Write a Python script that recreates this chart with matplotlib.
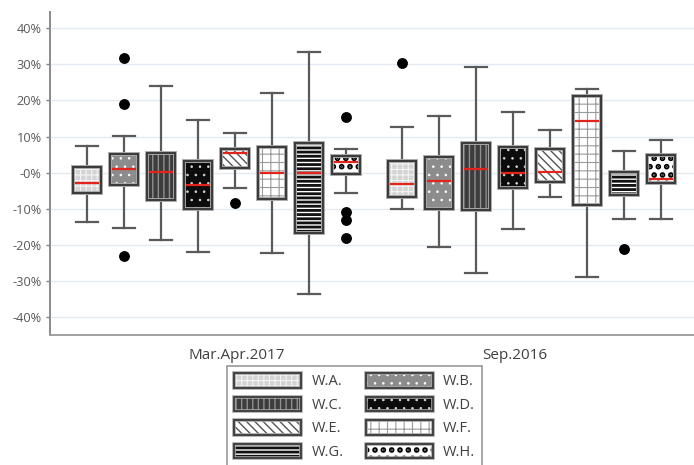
import matplotlib
matplotlib.use("Agg")
import matplotlib as mpl
import matplotlib.pyplot as plt
from matplotlib.patches import PathPatch, Patch, Rectangle
from matplotlib.legend_handler import HandlerBase
from matplotlib.ticker import FuncFormatter, MultipleLocator

# ---- data (percent change) ----
series = ["W.A.", "W.B.", "W.C.", "W.D.", "W.E.", "W.F.", "W.G.", "W.H."]
groups = ["Mar.Apr.2017", "Sep.2016"]

q1_mar = [-5.7, -3.3, -7.5, -10.0, 1.3, -7.2, -16.7, -0.4]
med_mar = [-3.0, 0.9, 0.2, -3.3, 5.3, 0.0, 0.0, 2.9]
q3_mar = [1.5, 5.2, 5.5, 3.1, 6.5, 7.0, 8.2, 4.6]
lo_mar = [-13.7, -15.3, -18.8, -22.0, -4.2, -22.3, -33.7, -5.7]
hi_mar = [7.4, 10.2, 23.9, 14.7, 11.1, 22.1, 33.3, 6.6]
out_mar = [[], [31.7, 18.9, -23.2], [], [], [-8.5], [], [], [15.4, -10.8, -13.2, -18.0]]

q1_sep = [-6.8, -10.2, -10.4, -4.3, -2.6, -8.9, -6.3, -3.0]
med_sep = [-3.2, -2.4, 0.9, -0.1, 0.1, 14.3, 0.1, -1.9]
q3_sep = [3.1, 4.3, 8.3, 7.0, 6.5, 21.3, 0.1, 4.8]
lo_sep = [-10.2, -20.5, -27.9, -15.5, -6.8, -28.8, -12.8, -12.8]
hi_sep = [12.5, 15.7, 29.3, 16.7, 11.8, 23.1, 6.1, 8.9]
out_sep = [[30.3], [], [], [], [], [], [-21.1], []]

# ---- fill styles per series ----
styles = {
    "W.A.": dict(face="#d4d4d4", hatch="+++", hc="#f4f4f4", hlw=0.8),
    "W.B.": dict(face="#8c8c8c", hatch="..", hc="#ffffff", hlw=0.6),
    "W.C.": dict(face="#3c3c3c", hatch="|||", hc="#8f8f8f", hlw=1.0),
    "W.D.": dict(face="#0c0c0c", hatch="..", hc="#d8d8d8", hlw=0.6),
    "W.E.": dict(face="#ffffff", hatch="\\\\\\\\", hc="#555555", hlw=1.0),
    "W.F.": dict(face="#ffffff", hatch="++", hc="#9a9a9a", hlw=0.8),
    "W.G.": dict(face="#ffffff", hatch="----", hc="#111111", hlw=2.0),
    "W.H.": dict(face="#ffffff", hatch="..", hc="#000000", hlw=2.8),
}

EDGE = "#3a3a3a"
HALO = "#a8a8a8"
WHISK = "#5a5a5a"
MED = "#e3241d"

plt.rcParams["font.family"] = ["Open Sans", "DejaVu Sans"]

fig = plt.figure(figsize=(6.94, 4.65), dpi=100)
ax = fig.add_axes([50 / 694, 1 - 335 / 465, 1 - 50 / 694, (335 - 12) / 465])


def with_hatch(cls, *args, st, **kw):
    with mpl.rc_context({"hatch.linewidth": st["hlw"]}):
        p = cls(*args, facecolor="none", edgecolor=st["hc"],
                hatch=st["hatch"], lw=0, **kw)
    if hasattr(p, "set_hatch_linewidth"):
        p.set_hatch_linewidth(st["hlw"])
    return p


group_gap = 0.5
group_data = [
    (q1_mar, med_mar, q3_mar, lo_mar, hi_mar, out_mar),
    (q1_sep, med_sep, q3_sep, lo_sep, hi_sep, out_sep),
]

for gi, (q1, med, q3, lo, hi, out) in enumerate(group_data):
    offset = gi * (len(series) + group_gap)
    positions = [offset + i for i in range(len(series))]
    stats = [dict(label=s, q1=a, med=m, q3=b, whislo=l, whishi=h, fliers=f)
             for s, a, m, b, l, h, f in zip(series, q1, med, q3, lo, hi, out)]
    res = ax.bxp(
        stats, positions=positions, widths=0.76, capwidths=0.6,
        patch_artist=True, manage_ticks=False,
        boxprops=dict(edgecolor="none", linewidth=0),
        whiskerprops=dict(color=WHISK, linewidth=1.6),
        capprops=dict(color=WHISK, linewidth=1.6),
        medianprops=dict(color=MED, linewidth=1.6),
        flierprops=dict(marker="o", markerfacecolor="black",
                        markeredgecolor="black", markersize=6.8),
    )
    for s, box, mline in zip(series, res["boxes"], res["medians"]):
        st = styles[s]
        box.set_facecolor(st["face"])
        box.set_zorder(2)
        path, tr = box.get_path(), box.get_transform()
        ax.add_patch(with_hatch(PathPatch, path, st=st, transform=tr, zorder=2.1))
        mline.set_zorder(2.2)
        ax.add_patch(PathPatch(path, transform=tr, fill=False,
                               edgecolor=HALO, lw=2.8, zorder=2.3))
        ax.add_patch(PathPatch(path, transform=tr, fill=False,
                               edgecolor=EDGE, lw=1.4, zorder=2.4))

# ---- axes styling ----
ax.set_xlim(-1.0, 16.4)
ax.set_ylim(-45, 44.5)
ax.yaxis.set_major_locator(MultipleLocator(10))
ax.yaxis.set_major_formatter(FuncFormatter(
    lambda v, p: "-0%" if abs(v) < 1e-9 else f"{v:.0f}%"))
ax.set_xticks([4.05, 11.57])
ax.set_xticklabels(groups)
ax.tick_params(axis="x", length=0, pad=9, labelsize=11, labelcolor="#404040")
ax.tick_params(axis="y", length=3, width=1, color="#808080", pad=3,
               labelsize=9.2, labelcolor="#595959")
ax.grid(axis="y", color="#e4eaf1", linewidth=1)
ax.set_axisbelow(True)
for side in ("top", "right"):
    ax.spines[side].set_visible(False)
ax.spines["left"].set_color("#8a8a8a")
ax.spines["left"].set_linewidth(1.4)
ax.spines["bottom"].set_color("#a0a0a0")
ax.spines["bottom"].set_linewidth(1.4)


# ---- legend ----
class StyledBoxHandler(HandlerBase):
    def __init__(self, st):
        super().__init__()
        self.st = st

    def create_artists(self, legend, orig_handle, xdescent, ydescent,
                       width, height, fontsize, trans):
        xy = (-xdescent, -ydescent)
        base = Rectangle(xy, width, height, facecolor=self.st["face"],
                         edgecolor="none", lw=0, transform=trans)
        hl = with_hatch(Rectangle, xy, width, height, st=self.st, transform=trans)
        halo = Rectangle(xy, width, height, fill=False, edgecolor=HALO,
                         lw=2.6, transform=trans)
        edge = Rectangle(xy, width, height, fill=False, edgecolor=EDGE,
                         lw=1.3, transform=trans)
        return [base, hl, halo, edge]


handles = [Patch(label=s) for s in series]
hmap = {h: StyledBoxHandler(styles[s]) for h, s in zip(handles, series)}
order = [0, 2, 4, 6, 1, 3, 5, 7]
leg = fig.legend(
    [handles[i] for i in order], [series[i] for i in order],
    handler_map=hmap,
    loc="upper left", bbox_to_anchor=(227 / 694, 1 - 366 / 465),
    ncol=2, fontsize=10.5, frameon=True, fancybox=False,
    handlelength=4.6, handleheight=1.15, handletextpad=0.7,
    columnspacing=1.5, labelspacing=0.5, borderpad=0.5, borderaxespad=0,
)
leg.get_frame().set_edgecolor("#7f7f7f")
leg.get_frame().set_linewidth(1.2)
for t in leg.get_texts():
    t.set_color("#404040")

fig.savefig("out.png", dpi=100)
